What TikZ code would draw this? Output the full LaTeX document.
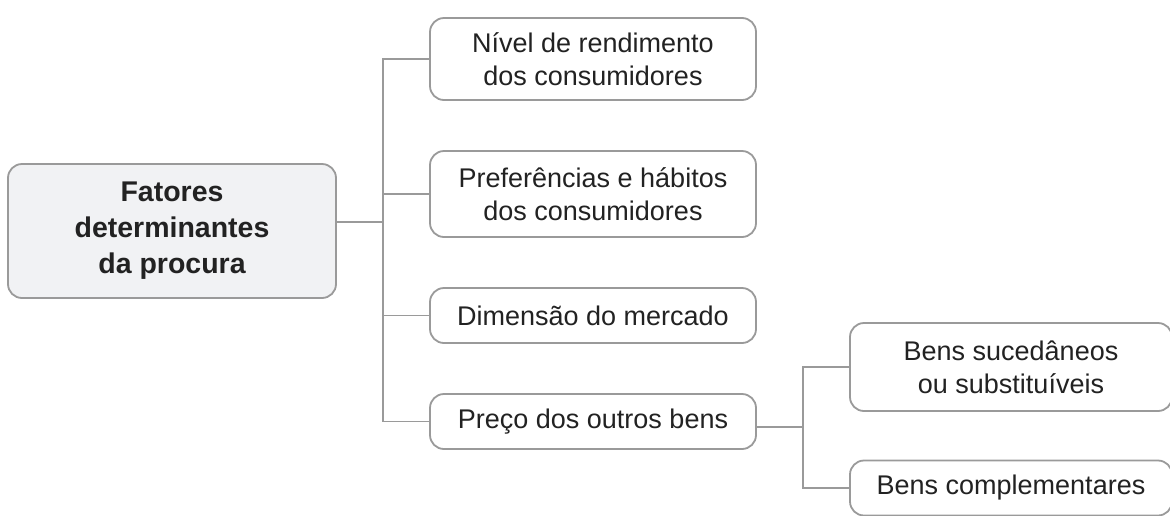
\documentclass[tikz,border=0pt]{standalone}
\usepackage{fontspec}
\setmainfont{Liberation Sans}
\definecolor{rootfill}{HTML}{F1F2F4}
\definecolor{linegray}{HTML}{9A9A9A}
\definecolor{inkdark}{HTML}{222222}
\begin{document}
\begin{tikzpicture}
	[ x=1pt, y=-1pt,
	  root/.style={draw=linegray,line width=1.8pt,rounded corners=14pt,fill=rootfill,text=inkdark,
	    minimum width=328pt,minimum height=134pt,align=center,font=\fontsize{28.5}{36}\selectfont\bfseries},
	  item/.style={draw=linegray,line width=1.8pt,rounded corners=14pt,fill=white,text=inkdark,
	    minimum width=326pt,align=center,font=\fontsize{27}{33}\selectfont},
	  branch/.style={linegray,line width=1.8pt} ]

	\useasboundingbox (0,0) rectangle (1170,515);

	\node[root] (fat) at (172,231) {Fatores\\determinantes\\da procura};
	\node[item,minimum height=82pt] (ren) at (593,59) {Nível de rendimento\\dos consumidores};
	\node[item,minimum height=86pt] (pre) at (593,194) {Preferências e hábitos\\dos consumidores};
	\node[item,minimum height=55pt] (dim) at (593,315.5) {Dimensão do mercado};
	\node[item,minimum height=55pt] (pob) at (593,421.5) {Preço dos outros bens};
	\node[item,minimum width=322pt,minimum height=88pt] (suc) at (1011,367) {Bens sucedâneos\\ou substituíveis};
	\node[item,minimum width=322pt,minimum height=55pt] (com) at (1011,488) {Bens complementares};

	% trunk lines
	\coordinate (t1) at (383,222);
	\coordinate (t2) at (803,427);
	\draw[branch] (fat.east |- t1) -- (t1);
	\draw[branch] (ren.west) -| (t1) |- (pob.west);
	\draw[branch] (t1) |- (pre.west);
	\draw[branch] (t1) |- (dim.west);
	\draw[branch] (pob.east |- t2) -- (t2);
	\draw[branch] (suc.west) -| (t2) |- (com.west);

\end{tikzpicture}
\end{document}
